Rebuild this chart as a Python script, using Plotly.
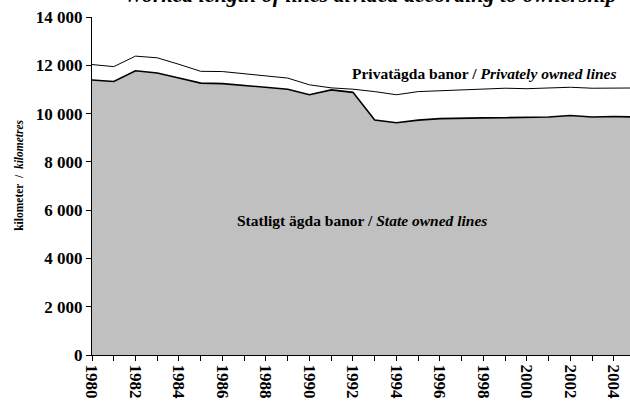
import plotly.graph_objects as go

years = list(range(1980, 2006))
state_owned = [11390, 11330, 11775, 11680, 11470, 11260, 11240, 11160, 11070, 11010,
               10780, 10980, 10880, 9730, 9620, 9730, 9790, 9790, 9820, 9830,
               9840, 9860, 9920, 9860, 9880, 9860]
total = [12030, 11945, 12380, 12310, 12040, 11750, 11740, 11665, 11560, 11470,
         11190, 11065, 11010, 10910, 10780, 10910, 10950, 10980, 11010, 11050,
         11030, 11050, 11090, 11050, 11070, 11060]

y_ticks = [0, 2000, 4000, 6000, 8000, 10000, 12000, 14000]
y_tick_text = ["0", "2 000", "4 000", "6 000", "8 000", "10 000", "12 000", "14 000"]
x_ticks = list(range(1980, 2005))
x_tick_text = [str(y) if y % 2 == 0 else "" for y in x_ticks]

FONT = "Liberation Serif"

fig = go.Figure()
fig.add_trace(go.Scatter(
    x=years, y=state_owned, mode="lines", fill="tozeroy",
    fillcolor="#c0c0c0", line=dict(color="black", width=1.6),
    showlegend=False, hoverinfo="skip"))
fig.add_trace(go.Scatter(
    x=years, y=total, mode="lines",
    line=dict(color="black", width=1),
    showlegend=False, hoverinfo="skip"))

fig.update_layout(
    width=630, height=403,
    margin=dict(l=92, r=0, t=17, b=48),
    paper_bgcolor="white", plot_bgcolor="white",
    font=dict(family=FONT, color="black"),
    xaxis=dict(range=[1980, 2004.74], tickvals=x_ticks, ticktext=x_tick_text,
               tickangle=90, ticks="outside", ticklen=5, tickcolor="black",
               showline=True, linecolor="black", linewidth=1, showgrid=False,
               zeroline=False,
               tickfont=dict(family=FONT, size=17, color="black", weight="bold")),
    yaxis=dict(range=[0, 14000], tickvals=y_ticks, ticktext=y_tick_text,
               ticks="outside", ticklen=5, tickcolor="black",
               showline=True, linecolor="black", linewidth=1, showgrid=False,
               zeroline=False,
               tickfont=dict(family=FONT, size=17, color="black", weight="bold")),
    annotations=[
        dict(text="<b><i>Worked length of lines divided according to ownership</i></b>",
             xref="paper", yref="paper", x=0.517, y=1, yshift=8, yanchor="bottom",
             xanchor="center", showarrow=False, font=dict(family=FONT, size=22)),
        dict(text="<b>Privatägda banor / <i>Privately owned lines</i></b>",
             xref="paper", yref="paper", x=0.730, y=0.834, xanchor="center",
             yanchor="middle", showarrow=False, font=dict(family=FONT, size=15.5)),
        dict(text="<b>Statligt ägda banor / <i>State owned lines</i></b>",
             xref="paper", yref="paper", x=0.502, y=0.399, xanchor="center",
             yanchor="middle", showarrow=False, font=dict(family=FONT, size=15.5)),
        dict(text="<b>kilometer  /  <i>kilometres</i></b>",
             xref="paper", yref="paper", x=-0.1357, y=0.533, xanchor="center",
             yanchor="middle", textangle=-90, showarrow=False,
             font=dict(family=FONT, size=11.5)),
    ],
)

fig.write_html("out.html", config={"displayModeBar": False},
               post_script="document.body.style.margin='0';")
